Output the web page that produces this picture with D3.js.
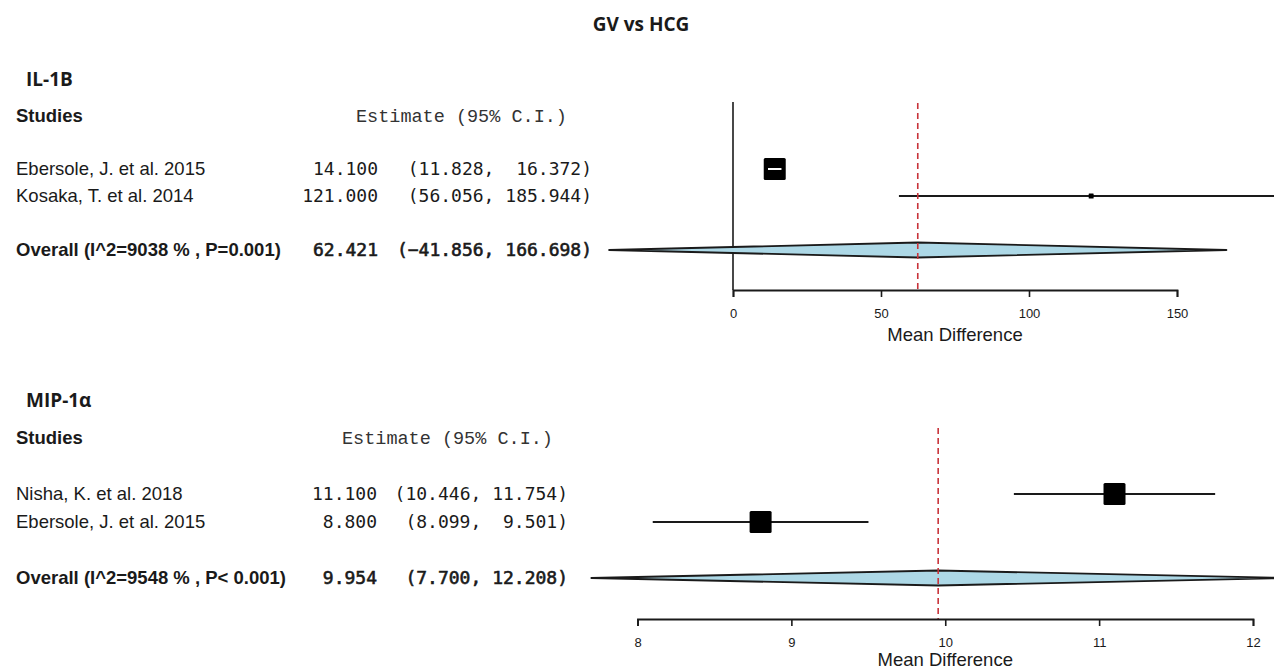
<!DOCTYPE html>
<html><head><meta charset="utf-8">
<script src="https://cdn.jsdelivr.net/npm/d3@7"></script>
<style>
html,body{margin:0;padding:0;background:#fff;}
svg{display:block;}
text{white-space:pre;}
</style></head>
<body>
<svg id="chart" width="1274" height="671"></svg>
<script>
// ---------- data ----------
const chartTitle = "GV vs HCG";
const panelNames = ["IL-1B", "MIP-1α"];

const il1bStudies = ["Ebersole, J. et al. 2015", "Kosaka, T. et al. 2014"];
const il1bEst   = [14.100, 121.000];
const il1bLower = [11.828, 56.056];
const il1bUpper = [16.372, 185.944];
const il1bWeight = [1.0, 0.05];
const il1bOverallLabel = "Overall (I^2=9038 % , P=0.001)";
const il1bOverall = [62.421, -41.856, 166.698];
const il1bTicks = [0, 50, 100, 150];

const mipStudies = ["Nisha, K. et al. 2018", "Ebersole, J. et al. 2015"];
const mipEst   = [11.100, 8.800];
const mipLower = [10.446, 8.099];
const mipUpper = [11.754, 9.501];
const mipWeight = [1.0, 1.0];
const mipOverallLabel = "Overall (I^2=9548 % , P< 0.001)";
const mipOverall = [9.954, 7.700, 12.208];
const mipTicks = [8, 9, 10, 11, 12];

const headerStudies = "Studies";
const headerEstimate = "Estimate (95% C.I.)";
const axisTitle = "Mean Difference";

// ---------- layout ----------
const svg = d3.select("#chart");
const fmt = d3.format(".3f");
const sansFont = "'Liberation Sans', Arial, Helvetica, sans-serif";
const monoNum = "'DejaVu Sans Mono', monospace";
const monoHead = "'Liberation Mono', 'Courier New', monospace";
const titleFont = "'Open Sans', 'Noto Sans', sans-serif";
const ink = "#1a1a1a";

svg.append("text").attr("x", 641).attr("y", 24).attr("dy", "0.35em")
  .attr("text-anchor", "middle").attr("font-family", titleFont)
  .attr("font-weight", 700).attr("font-size", 19).attr("fill", ink).text(chartTitle);

const panels = [
  { name: panelNames[0], studies: il1bStudies, est: il1bEst, lo: il1bLower, hi: il1bUpper, w: il1bWeight,
    ovLabel: il1bOverallLabel, ov: il1bOverall, ticks: il1bTicks,
    nameY: 79, headY: 116, row0: 169, rowStep: 27, axisY: 290, refTop: 103, titleOff: 45,
    xRange: [733, 1177], estRight: 378, ciRight: 592, headX: 356, zeroLine: true },
  { name: panelNames[1], studies: mipStudies, est: mipEst, lo: mipLower, hi: mipUpper, w: mipWeight,
    ovLabel: mipOverallLabel, ov: mipOverall, ticks: mipTicks,
    nameY: 400, headY: 438, row0: 494, rowStep: 28, axisY: 619, refTop: 428, titleOff: 41,
    xRange: [637.5, 1253], estRight: 377, ciRight: 568, headX: 342, zeroLine: false }
];

panels.forEach(p => {
  const g = svg.append("g");
  const x = d3.scaleLinear().domain([p.ticks[0], p.ticks[p.ticks.length - 1]]).range(p.xRange);
  const y = d3.scaleLinear().domain([0, 1]).range([p.row0, p.row0 + p.rowStep]);
  const size = d3.scaleSqrt().domain([0, d3.max(p.w)]).range([0, 22]);

  // panel name
  g.append("text").attr("x", 26).attr("y", p.nameY).attr("dy", "0.35em")
    .attr("font-family", titleFont).attr("font-weight", 700).attr("font-size", 19)
    .attr("fill", ink).text(p.name);

  // headers
  g.append("text").attr("x", 16).attr("y", p.headY).attr("dy", "0.35em")
    .attr("font-family", sansFont).attr("font-weight", 700).attr("font-size", 18.5)
    .attr("fill", ink).text(headerStudies);
  g.append("text").attr("x", p.headX).attr("y", p.headY).attr("dy", "0.35em")
    .attr("font-family", monoHead).attr("font-size", 18.5).attr("fill", "#333").text(headerEstimate);

  const hiW = d3.max(p.hi.concat([p.ov[2]]), v => fmt(v).length);
  const ciStr = (lo, hi) => "(" + fmt(lo) + ", " + fmt(hi).padStart(hiW, " ") + ")";

  // study rows text
  p.studies.forEach((s, i) => {
    const yy = y(i);
    g.append("text").attr("x", 16).attr("y", yy).attr("dy", "0.35em")
      .attr("font-family", sansFont).attr("font-size", 18.5).attr("fill", ink).text(s);
    g.append("text").attr("x", p.estRight).attr("y", yy).attr("dy", "0.35em").attr("text-anchor", "end")
      .attr("font-family", monoNum).attr("font-size", 18).attr("fill", ink).text(fmt(p.est[i]));
    g.append("text").attr("x", p.ciRight).attr("y", yy).attr("dy", "0.35em").attr("text-anchor", "end")
      .attr("font-family", monoNum).attr("font-size", 18).attr("fill", ink).text(ciStr(p.lo[i], p.hi[i]));
  });
  // overall text
  const yo = y(3);
  g.append("text").attr("x", 16).attr("y", yo).attr("dy", "0.35em")
    .attr("font-family", sansFont).attr("font-weight", 700).attr("font-size", 18.5).attr("fill", ink).text(p.ovLabel);
  g.append("text").attr("x", p.estRight).attr("y", yo).attr("dy", "0.35em").attr("text-anchor", "end")
    .attr("font-family", monoNum).attr("font-size", 18).attr("fill", ink)
    .attr("stroke", ink).attr("stroke-width", 0.6).text(fmt(p.ov[0]));
  g.append("text").attr("x", p.ciRight).attr("y", yo).attr("dy", "0.35em").attr("text-anchor", "end")
    .attr("font-family", monoNum).attr("font-size", 18).attr("fill", ink)
    .attr("stroke", ink).attr("stroke-width", 0.6).text(ciStr(p.ov[1], p.ov[2]));

  // zero line
  if (p.zeroLine) {
    g.append("line").attr("x1", x(0)).attr("x2", x(0)).attr("y1", p.refTop - 1).attr("y2", p.axisY)
      .attr("stroke", ink).attr("stroke-width", 1.6);
  }

  // CI lines and boxes
  p.studies.forEach((s, i) => {
    const yy = y(i);
    const bs = size(p.w[i]);
    g.append("line").attr("x1", x(p.lo[i])).attr("x2", x(p.hi[i])).attr("y1", yy).attr("y2", yy)
      .attr("stroke", ink).attr("stroke-width", 2);
    g.append("rect").attr("x", x(p.est[i]) - bs / 2).attr("y", yy - bs / 2)
      .attr("width", bs).attr("height", bs).attr("rx", bs > 8 ? 1.5 : 0.5).attr("fill", "#000");
    if (x(p.hi[i]) - x(p.lo[i]) < bs) {
      g.append("line").attr("x1", x(p.lo[i])).attr("x2", x(p.hi[i])).attr("y1", yy).attr("y2", yy)
        .attr("stroke", "#fff").attr("stroke-width", 2);
    }
  });

  // diamond
  const dh = 7.5;
  const dpath = d3.path();
  dpath.moveTo(x(p.ov[1]), yo);
  dpath.lineTo(x(p.ov[0]), yo - dh);
  dpath.lineTo(x(p.ov[2]), yo);
  dpath.lineTo(x(p.ov[0]), yo + dh);
  dpath.closePath();
  g.append("path").attr("d", dpath.toString()).attr("fill", "#add8e6")
    .attr("stroke", ink).attr("stroke-width", 1.8).attr("stroke-linejoin", "round");

  // reference dashed line at overall estimate
  g.append("line").attr("x1", x(p.ov[0])).attr("x2", x(p.ov[0])).attr("y1", p.refTop).attr("y2", p.axisY)
    .attr("stroke", "#c8333a").attr("stroke-width", 1.6).attr("stroke-dasharray", "6,4");

  // axis
  const axis = d3.axisBottom(x).tickValues(p.ticks).tickSize(7).tickPadding(12).tickFormat(d3.format("d"));
  const ag = g.append("g").attr("transform", `translate(0,${p.axisY})`).call(axis);
  ag.select(".domain").attr("stroke", ink).attr("stroke-width", 1.8);
  ag.selectAll(".tick line").attr("stroke", ink).attr("stroke-width", 1.6);
  ag.selectAll(".tick text").attr("font-family", sansFont).attr("font-size", 13).attr("fill", ink);
  g.append("text").attr("x", (p.xRange[0] + p.xRange[1]) / 2).attr("y", p.axisY + p.titleOff).attr("dy", "0.35em")
    .attr("text-anchor", "middle").attr("font-family", sansFont).attr("font-size", 18.5)
    .attr("fill", ink).text(axisTitle);
});
</script>
</body></html>
